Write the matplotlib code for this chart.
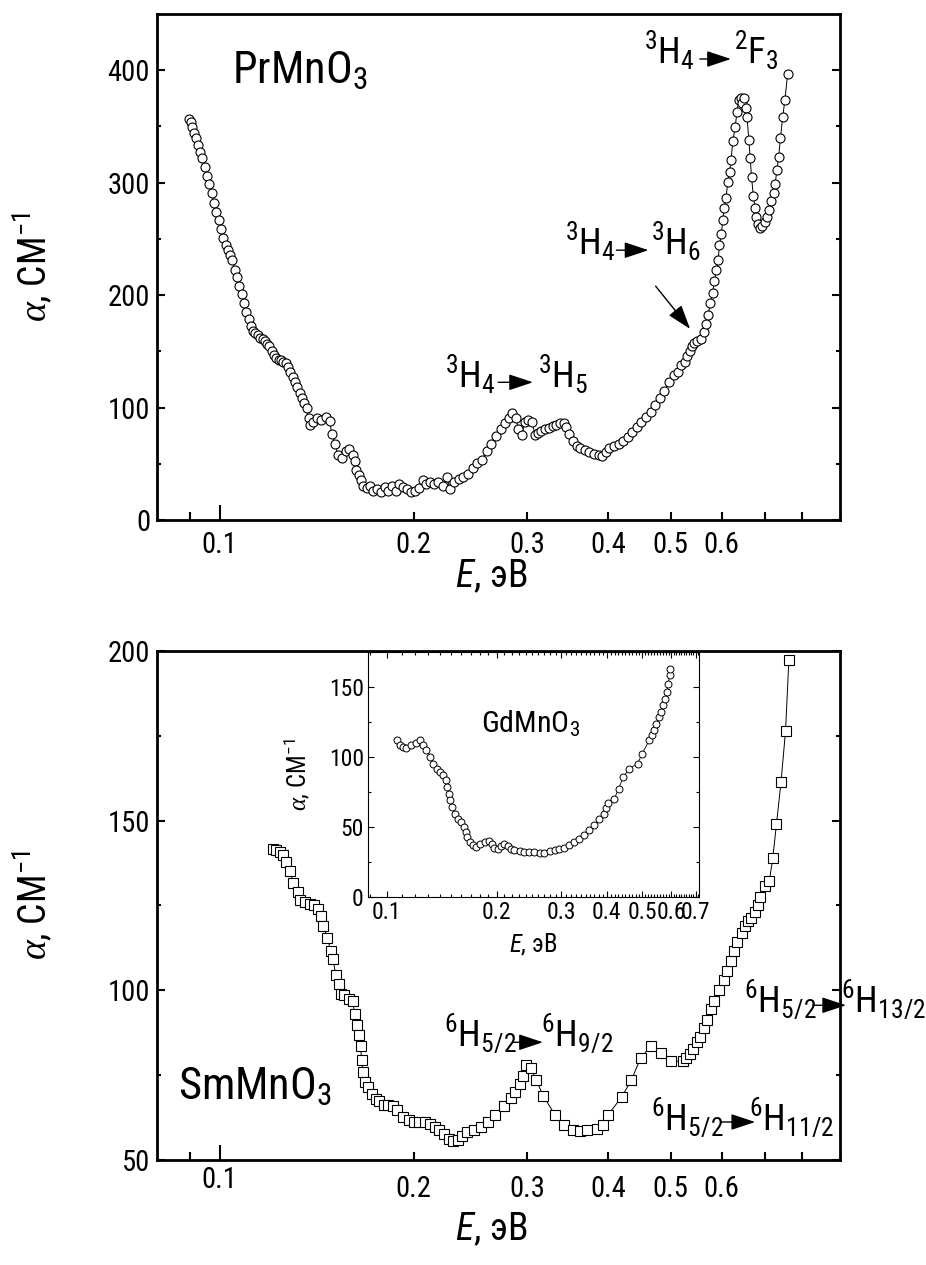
import matplotlib
matplotlib.use("Agg")
import matplotlib.pyplot as plt
from matplotlib.ticker import FixedLocator, NullFormatter, FixedFormatter
from matplotlib import font_manager as fm
from matplotlib.ft2font import FT2Font
from matplotlib.textpath import TextPath
from matplotlib.font_manager import FontProperties

# look for a narrow sans font with Cyrillic and Greek (the original uses Arial Narrow)
need = [ord(c) for c in 'αСМэВH0']


def rank(e):
    n = e.name + ' ' + e.fname
    if 'Narrow' in n:
        r = 0
    elif 'SemiCondensed' in n or 'Semi Condensed' in n:
        r = 2
    elif 'ExtraCondensed' in n or 'UltraCondensed' in n or 'Extra Condensed' in n:
        r = 3
    elif 'Condensed' in n:
        r = 1
    else:
        return None
    fams = ['Liberation', 'Arial', 'Roboto', 'Noto Sans', 'Open Sans', 'DejaVu']
    f = next((i for i, k in enumerate(fams) if k in n), 9)
    return (r, f)


def weight_of(e):
    w = e.weight
    if isinstance(w, str):
        w = fm.weight_dict.get(w, 400)
    return w


def covers(path):
    try:
        cmap = FT2Font(path).get_charmap()
    except Exception:
        return False
    return all(c in cmap for c in need)


upright, italic = None, None
for e in fm.fontManager.ttflist:
    if 'Mono' in e.name or 'Serif' in e.name or not 350 <= weight_of(e) <= 450:
        continue
    rk = rank(e)
    if rk is None or not covers(e.fname):
        continue
    if e.style == 'normal':
        if upright is None or rk < upright[0]:
            upright = (rk, e)
    else:
        if italic is None or rk < italic[0]:
            italic = (rk, e)

if upright is not None:
    fm.fontManager.ttflist.append(fm.FontEntry(fname=upright[1].fname, name='NarrowFont',
                                               style='normal', weight=400, stretch='normal'))
    base = 'NarrowFont'
    if italic is not None:
        fm.fontManager.ttflist.append(fm.FontEntry(fname=italic[1].fname, name='NarrowFont',
                                                   style='italic', weight=400, stretch='normal'))
        ital = 'NarrowFont:italic'
    else:
        ital = 'Liberation Sans:italic'
else:
    base = 'Liberation Sans'
    ital = 'Liberation Sans:italic'

plt.rcParams['font.family'] = [base, 'Liberation Sans', 'DejaVu Sans']
plt.rcParams['mathtext.fontset'] = 'custom'
plt.rcParams['mathtext.rm'] = base
plt.rcParams['mathtext.it'] = ital
plt.rcParams['mathtext.bf'] = base + ':bold'
plt.rcParams['mathtext.sf'] = 'Liberation Serif:italic'   # curly alpha

# scale text so that "400" at 22 pt is about as wide as in the original
w400 = TextPath((0, 0), '400', size=22, prop=FontProperties(family=base)).get_extents().width
s = min(1.05, max(0.72, 28.8 / w400))

# PrMnO3 (top panel)
pr_E = [0.0898, 0.0903, 0.0907, 0.0913, 0.0919, 0.0925, 0.0933, 0.0941, 0.0949, 0.0956,
        0.0964, 0.0972, 0.0980, 0.0989, 0.0997, 0.1005, 0.1013, 0.1022, 0.1030, 0.1039,
        0.1047, 0.1056, 0.1065, 0.1073, 0.1082, 0.1091, 0.1100, 0.1110, 0.1119, 0.1128,
        0.1137, 0.1147, 0.1156, 0.1166, 0.1176, 0.1185, 0.1195, 0.1205, 0.1215, 0.1225,
        0.1235, 0.1245, 0.1256, 0.1266, 0.1277, 0.1287, 0.1298, 0.1309, 0.1320, 0.1331,
        0.1342, 0.1353, 0.1364, 0.1375, 0.1382, 0.1398, 0.1416, 0.1438, 0.1462, 0.1481,
        0.1493, 0.1510, 0.1526, 0.1548, 0.1569, 0.1590, 0.1608, 0.1622, 0.1630, 0.1643,
        0.1654, 0.1670, 0.1690, 0.1710, 0.1732, 0.1755, 0.1779, 0.1802, 0.1826, 0.1850,
        0.1875, 0.1900, 0.1926, 0.1951, 0.1977, 0.2010, 0.2037, 0.2064, 0.2092, 0.2120,
        0.2148, 0.2183, 0.2220, 0.2248, 0.2278, 0.2308, 0.2349, 0.2388, 0.2427, 0.2467,
        0.2508, 0.2550, 0.2593, 0.2636, 0.2680, 0.2726, 0.2772, 0.2810, 0.2843, 0.2877,
        0.2906, 0.2940, 0.2970, 0.3010, 0.3050, 0.3081, 0.3117, 0.3153, 0.3196, 0.3238,
        0.3281, 0.3325, 0.3369, 0.3414, 0.3448, 0.3482, 0.3529, 0.3576, 0.3624, 0.3678,
        0.3741, 0.3803, 0.3867, 0.3913, 0.3964, 0.4018, 0.4084, 0.4152, 0.4220, 0.4290,
        0.4361, 0.4433, 0.4506, 0.4581, 0.4656, 0.4733, 0.4811, 0.4890, 0.4971, 0.5053,
        0.5136, 0.5195, 0.5255, 0.5307, 0.5351, 0.5395, 0.5439, 0.5502, 0.5575, 0.5630,
        0.5667, 0.5714, 0.5761, 0.5809, 0.5847, 0.5886, 0.5924, 0.5953, 0.5993, 0.6022,
        0.6052, 0.6092, 0.6132, 0.6171, 0.6202, 0.6243, 0.6294, 0.6336, 0.6377, 0.6419,
        0.6461, 0.6503, 0.6535, 0.6567, 0.6610, 0.6642, 0.6675, 0.6718, 0.6762, 0.6784,
        0.6828, 0.6872, 0.6939, 0.6995, 0.7052, 0.7109, 0.7166, 0.7224, 0.7259, 0.7305,
        0.7352, 0.7400, 0.7459, 0.7518, 0.7590]
pr_a = [356.8, 353.8, 349.2, 344.6, 340.0, 333.8, 327.7, 321.6, 313.9, 306.3,
        298.6, 291.0, 281.8, 274.1, 266.5, 258.8, 251.1, 245.0, 240.4, 235.8,
        231.2, 222.1, 215.9, 208.3, 200.6, 193.0, 185.3, 179.2, 173.0, 168.5,
        166.0, 164.8, 162.3, 160.8, 159.3, 156.2, 154.7, 150.1, 147.0, 144.0,
        142.4, 142.4, 140.9, 139.4, 136.3, 131.7, 127.1, 122.5, 117.9, 113.3,
        108.7, 104.1, 99.5, 90.4, 84.2, 87.3, 90.4, 88.8, 91.9, 88.2,
        76.6, 67.4, 58.2, 55.1, 61.3, 62.8, 57.6, 52.1, 44.4, 39.8,
        35.2, 30.6, 28.2, 30.6, 26.0, 27.6, 25.1, 29.1, 26.0, 30.6,
        26.0, 32.2, 29.1, 27.6, 24.5, 26.0, 28.2, 35.2, 32.2, 33.7,
        32.2, 33.7, 30.6, 38.3, 27.6, 33.7, 36.8, 38.3, 41.3, 45.9,
        50.5, 53.6, 61.3, 67.4, 75.0, 81.2, 86.4, 90.4, 94.9, 90.4,
        81.2, 76.0, 87.3, 88.8, 87.3, 76.0, 77.2, 79.6, 81.2, 82.1,
        83.3, 84.2, 86.4, 86.4, 82.7, 76.6, 70.4, 65.8, 63.7, 61.9,
        60.6, 58.8, 57.6, 56.7, 60.6, 64.3, 65.8, 68.0, 70.4, 74.1,
        78.1, 82.7, 87.3, 91.9, 96.5, 102.6, 108.7, 114.9, 122.5, 128.6,
        131.7, 137.8, 140.9, 145.5, 150.1, 154.7, 157.7, 159.3, 160.8, 166.9,
        174.6, 182.2, 193.0, 202.1, 212.9, 222.1, 231.2, 245.0, 254.2, 266.5,
        277.2, 286.4, 300.2, 309.3, 320.1, 336.9, 349.2, 362.9, 373.7, 375.2,
        370.6, 375.2, 366.0, 358.3, 338.4, 321.6, 304.7, 287.9, 277.2, 269.5,
        263.4, 259.4, 261.9, 264.9, 269.5, 275.7, 283.3, 291.0, 298.6, 310.9,
        323.1, 340.0, 358.3, 373.7, 396.6]

# SmMnO3 (bottom panel)
sm_E = [0.1209, 0.1225, 0.1240, 0.1254, 0.1270, 0.1287, 0.1300, 0.1324, 0.1335, 0.1357,
        0.1380, 0.1400, 0.1420, 0.1437, 0.1449, 0.1470, 0.1487, 0.1500, 0.1513, 0.1530,
        0.1543, 0.1560, 0.1590, 0.1608, 0.1620, 0.1635, 0.1646, 0.1654, 0.1660, 0.1668,
        0.1680, 0.1700, 0.1723, 0.1750, 0.1767, 0.1796, 0.1826, 0.1856, 0.1887, 0.1925,
        0.1967, 0.2000, 0.2034, 0.2085, 0.2120, 0.2155, 0.2190, 0.2228, 0.2265, 0.2300,
        0.2340, 0.2378, 0.2418, 0.2480, 0.2540, 0.2604, 0.2670, 0.2760, 0.2830, 0.2875,
        0.2920, 0.2957, 0.2980, 0.3036, 0.3097, 0.3174, 0.3310, 0.3420, 0.3533, 0.3620,
        0.3715, 0.3850, 0.3934, 0.4000, 0.4200, 0.4345, 0.4495, 0.4665, 0.4834, 0.5010,
        0.5226, 0.5290, 0.5350, 0.5420, 0.5495, 0.5560, 0.5625, 0.5700, 0.5780, 0.5845,
        0.5945, 0.6050, 0.6123, 0.6195, 0.6280, 0.6345, 0.6455, 0.6530, 0.6595, 0.6665,
        0.6745, 0.6830, 0.6880, 0.7000, 0.7110, 0.7200, 0.7295, 0.7415, 0.7535, 0.7625]
sm_a = [141.6, 141.3, 140.8, 139.8, 137.8, 135.2, 131.6, 129.1, 126.5, 126.0,
        125.5, 125.0, 124.0, 121.9, 118.9, 115.3, 111.7, 109.2, 104.6, 102.0,
        99.0, 98.5, 97.4, 97.0, 92.9, 89.8, 86.7, 83.7, 79.6, 76.0,
        73.0, 71.4, 69.4, 67.9, 67.3, 66.3, 66.3, 65.8, 64.8, 62.8,
        61.7, 61.2, 61.2, 61.2, 60.7, 59.7, 58.7, 57.7, 56.1, 55.6,
        55.9, 57.1, 58.2, 58.7, 59.7, 61.2, 63.3, 65.8, 68.4, 69.9,
        72.4, 74.7, 78.1, 77.0, 73.5, 68.9, 63.3, 60.2, 58.7, 58.4,
        58.7, 59.2, 60.2, 63.3, 68.6, 73.5, 80.1, 83.7, 81.6, 79.1,
        79.1, 80.1, 81.1, 82.7, 84.7, 86.2, 88.8, 91.3, 94.4, 96.9,
        100.0, 103.0, 105.6, 108.7, 111.7, 114.3, 116.8, 118.9, 120.4, 121.4,
        123.0, 125.0, 127.6, 130.6, 132.1, 139.0, 149.0, 161.4, 176.5, 197.4]

# GdMnO3 (inset)
gd_E = [0.1069, 0.1087, 0.1110, 0.1134, 0.1170, 0.1207, 0.1233, 0.1260, 0.1286, 0.1313,
        0.1340, 0.1370, 0.1398, 0.1427, 0.1452, 0.1463, 0.1479, 0.1494, 0.1513, 0.1535,
        0.1570, 0.1600, 0.1625, 0.1645, 0.1660, 0.1687, 0.1720, 0.1759, 0.1796, 0.1855,
        0.1910, 0.1945, 0.1970, 0.2016, 0.2060, 0.2100, 0.2147, 0.2190, 0.2238, 0.2310,
        0.2380, 0.2457, 0.2537, 0.2620, 0.2702, 0.2790, 0.2880, 0.2967, 0.3060, 0.3160,
        0.3262, 0.3366, 0.3473, 0.3585, 0.3700, 0.3820, 0.3940, 0.3980, 0.4040, 0.4197,
        0.4310, 0.4440, 0.4606, 0.4855, 0.4987, 0.5225, 0.5313, 0.5392, 0.5470, 0.5562,
        0.5620, 0.5703, 0.5776, 0.5837, 0.5886, 0.5948, 0.5960]
gd_a = [111.9, 108.3, 107.0, 106.7, 108.3, 110.0, 111.9, 108.3, 104.8, 100.0,
        95.2, 91.7, 89.3, 86.9, 83.3, 78.6, 73.8, 69.0, 64.3, 59.5,
        56.0, 53.6, 50.0, 46.4, 42.9, 39.3, 36.9, 35.7, 38.1, 39.3,
        39.8, 38.1, 35.2, 34.5, 36.2, 37.6, 36.2, 34.5, 33.3, 32.6,
        32.1, 32.1, 31.9, 31.7, 31.7, 32.6, 33.8, 34.5, 35.2, 36.9,
        39.3, 41.4, 44.3, 47.6, 51.7, 55.5, 59.0, 63.8, 67.1, 70.2,
        77.4, 85.7, 91.7, 95.2, 101.9, 111.9, 115.5, 119.0, 123.8, 128.6,
        132.1, 136.9, 141.7, 146.4, 152.4, 158.3, 163.1]

x_minor = [0.09, 0.2, 0.3, 0.4, 0.5, 0.6, 0.7, 0.8]
x_minor_labels = ['', '0.2', '0.3', '0.4', '0.5', '0.6', '', '']
inset_labels = ['0.1', '0.2', '0.3', '0.4', '0.5', '0.6', '0.7']
inset_label_pos = [0.1, 0.2, 0.3, 0.4, 0.5, 0.6, 0.7]

fig = plt.figure(figsize=(9.26, 12.65), dpi=100)
ax1 = fig.add_axes([0.1695, 0.5889, 0.7376, 0.400])
ax2 = fig.add_axes([0.1695, 0.0830, 0.7376, 0.4024])
ins = fig.add_axes([0.3974, 0.2909, 0.3575, 0.1937])

ylab = r'$\mathsf{\alpha}$, СМ$^{-1}$'
xlab = r'$\mathit{E}$, эВ'

tick_fs = 22 * s
lab_fs = 29 * s
ann_fs = 28 * s
big_fs = 34 * s


def main_axes(ax, yticks, ymin_ticks):
    ax.set_xscale('log')
    ax.set_xlim(0.08, 0.915)
    ax.xaxis.set_major_locator(FixedLocator([0.1]))
    ax.xaxis.set_minor_locator(FixedLocator(x_minor))
    ax.xaxis.set_major_formatter(FixedFormatter(['0.1']))
    ax.xaxis.set_minor_formatter(FixedFormatter(x_minor_labels))
    ax.yaxis.set_major_locator(FixedLocator(yticks))
    ax.yaxis.set_minor_locator(FixedLocator(ymin_ticks))
    ax.tick_params(which='both', direction='in', labelsize=tick_fs, width=1.5,
                   left=True, right=True, top=False, bottom=True)
    ax.tick_params(which='major', axis='x', length=11, pad=8)
    ax.tick_params(which='minor', axis='x', length=6, pad=8)
    ax.tick_params(which='major', axis='y', length=6, pad=5)
    ax.tick_params(which='minor', axis='y', length=3)
    for sp in ax.spines.values():
        sp.set_linewidth(2.0)
    ax.set_xlabel(xlab, fontsize=lab_fs)
    ax.set_ylabel(ylab, fontsize=lab_fs)


def arrow(ax, x0, x1, y0, y1=None):
    if y1 is None:
        y1 = y0
    ax.annotate('', xy=(x1, y1), xytext=(x0, y0), annotation_clip=False,
                arrowprops=dict(arrowstyle='-|>,head_length=0.75,head_width=0.25',
                                mutation_scale=20, color='k', lw=1.0,
                                shrinkA=0, shrinkB=0))


# top panel
ax1.plot(pr_E, pr_a, '-', color='k', lw=0.7, marker='o', ms=6.5, mfc='white',
         mec='k', mew=0.8)
main_axes(ax1, [0, 100, 200, 300, 400], [50, 150, 250, 350])
ax1.set_ylim(0, 450)
ax1.xaxis.set_label_coords(0.49, -0.075)
ax1.yaxis.set_label_coords(-0.15, 0.5)

ax1.text(0.1047, 389, r'PrMnO$_3$', fontsize=big_fs)
ax1.text(0.2237, 118, r'$^3$H$_4$', fontsize=ann_fs)
arrow(ax1, 0.2703, 0.306, 122.5)
ax1.text(0.311, 118, r'$^3$H$_5$', fontsize=ann_fs)
ax1.text(0.343, 236, r'$^3$H$_4$', fontsize=ann_fs)
arrow(ax1, 0.412, 0.462, 240)
ax1.text(0.466, 236, r'$^3$H$_6$', fontsize=ann_fs)
arrow(ax1, 0.474, 0.536, 208, 170)
ax1.text(0.455, 406, r'$^3$H$_4$', fontsize=ann_fs)
arrow(ax1, 0.555, 0.62, 410)
ax1.text(0.626, 406, r'$^2$F$_3$', fontsize=ann_fs)

# bottom panel
ax2.plot(sm_E, sm_a, '-', color='k', lw=0.7, marker='s', ms=6.5, mfc='white',
         mec='k', mew=0.8)
main_axes(ax2, [50, 100, 150, 200], [75, 125, 175])
ax2.set_ylim(50, 200)
ax2.tick_params(which='major', axis='x', pad=4)
ax2.tick_params(which='minor', axis='x', pad=11)
ax2.xaxis.set_label_coords(0.49, -0.1)
ax2.yaxis.set_label_coords(-0.15, 0.5)

ax2.text(0.0862, 67.9, r'SmMnO$_3$', fontsize=big_fs)
ax2.text(0.2226, 83.7, r'$^6$H$_{5/2}$', fontsize=ann_fs)
arrow(ax2, 0.285, 0.317, 84.7)
ax2.text(0.315, 83.7, r'$^6$H$_{9/2}$', fontsize=ann_fs)
ax2.text(0.4666, 59.2, r'$^6$H$_{5/2}$', fontsize=ann_fs)
arrow(ax2, 0.598, 0.676, 61.2)
ax2.text(0.6615, 59.2, r'$^6$H$_{11/2}$', fontsize=ann_fs)
ax2.text(0.65, 93.8, r'$^6$H$_{5/2}$', fontsize=ann_fs)
arrow(ax2, 0.83, 0.935, 95.6)
ax2.text(0.918, 93.8, r'$^6$H$_{13/2}$', fontsize=ann_fs, clip_on=False)

# inset
ins.plot(gd_E, gd_a, '-', color='k', lw=0.6, marker='o', ms=5, mfc='white',
         mec='k', mew=0.7)
ins.set_xscale('log')
ins.set_xlim(0.089, 0.715)
ins.set_ylim(0, 175)
ins.xaxis.set_major_locator(FixedLocator(inset_label_pos))
ins.xaxis.set_major_formatter(FixedFormatter(inset_labels))
ins.xaxis.set_minor_locator(FixedLocator([k / 100 for k in range(9, 72)]))
ins.xaxis.set_minor_formatter(NullFormatter())
ins.yaxis.set_major_locator(FixedLocator([0, 50, 100, 150]))
ins.yaxis.set_minor_locator(FixedLocator([25, 75, 125, 175]))
ins.tick_params(which='both', direction='in', labelsize=18 * s, width=0.8,
                left=True, right=True, top=True, bottom=True)
ins.tick_params(which='major', length=4, pad=3)
ins.tick_params(which='minor', length=2)
for sp in ins.spines.values():
    sp.set_linewidth(0.8)
ins.set_xlabel(xlab, fontsize=19 * s)
ins.set_ylabel(ylab, fontsize=19 * s)
ins.xaxis.set_label_coords(0.5, -0.14)
ins.yaxis.set_label_coords(-0.17, 0.5)
ins.text(0.1815, 117.9, r'GdMnO$_3$', fontsize=23 * s)

fig.savefig('out.png', dpi=100)
